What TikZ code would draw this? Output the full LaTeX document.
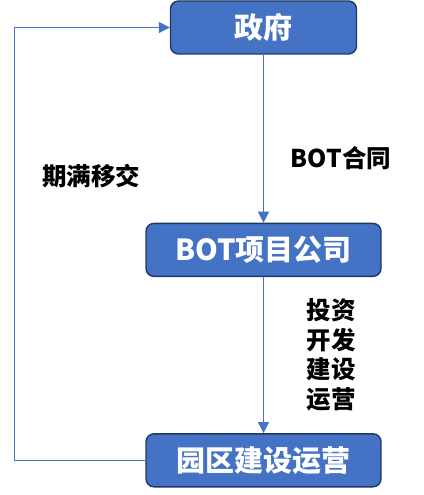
\documentclass[tikz,border=0pt]{standalone}
\usepackage{fontspec}
\usepackage{tikz}
\usetikzlibrary{arrows.meta,positioning}
\setmainfont{Noto Sans CJK SC}
\definecolor{bleuB}{HTML}{4472C4}
\definecolor{bleuF}{HTML}{1F3864}
\tikzset{
  boite/.style={rectangle, rounded corners=8pt, draw=bleuF, line width=1.4pt, fill=bleuB,
                text=white, font=\fontsize{29}{32}\selectfont\bfseries, minimum height=53pt, inner sep=0pt},
  lien/.style={-{Triangle[length=11pt,width=11pt]}, line width=1.1pt, draw=bleuB},
  note/.style={font=\fontsize{24.5}{29.5}\selectfont\bfseries, align=center, inner sep=0pt},
}

\begin{document}
\begin{tikzpicture}[x=1pt, y=-1pt]
        \useasboundingbox (0,0) rectangle (423,495);
        \node[boite, minimum width=186pt] (gov) at (263.5,27.5) {政府};
        \node[boite, minimum width=235pt, below=168pt of gov] (bot) {BOT项目公司};
        \node[boite, minimum width=235pt, below=156pt of bot] (parc) {园区建设运营};
        \node[note] (contrat) at (341,158) {BOT合同};
        \node[note] (transf) at (91,176) {期满移交};
        \node[note] (invest) at (331,355) {投资\\开发\\建设\\运营};
        \draw[lien] (gov) -- (bot); \draw[lien] (bot) -- (parc);
        \draw[lien] (parc.west) -- ++(-131pt,0) |- (gov.west);
      \end{tikzpicture}
\end{document}
